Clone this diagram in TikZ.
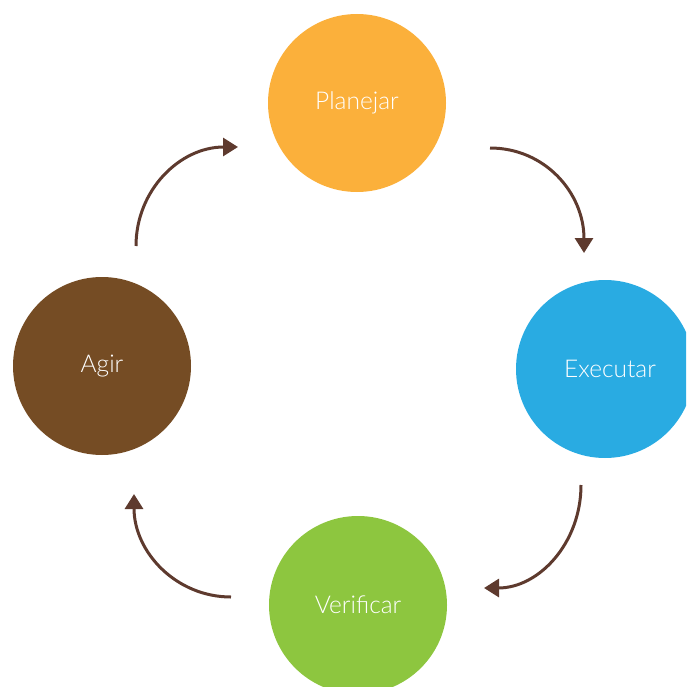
\documentclass[tikz,border=0pt]{standalone}
\usepackage{fontspec}
\setmainfont{Lato Light}
\usetikzlibrary{arrows.meta}
\definecolor{cPlan}{HTML}{FBB03B}
\definecolor{cExec}{HTML}{29ABE2}
\definecolor{cVer}{HTML}{8DC63F}
\definecolor{cAgir}{HTML}{754C24}
\definecolor{cArrow}{HTML}{5E3A2E}
\tikzset{
  phase/.style={circle, minimum size=178pt, inner sep=0pt, text=white,
    font=\fontsize{24.5}{28}\selectfont},
  cyclearrow/.style={draw=cArrow, line width=3pt,
    -{Triangle[width=18pt,length=15pt]}}
}
\begin{document}
\begin{tikzpicture}[x=1pt,y=-1pt]
\useasboundingbox (0,0) rectangle (686,687);
\begin{scope}
\clip (0,0) rectangle (686,687);
\node[phase, fill=cPlan] (plan) at (357,103) {Planejar};
\node[phase, fill=cExec] (exec) at (605,369) {\hspace*{10pt}Executar};
\node[phase, fill=cVer]  (ver)  at (358,605) {Verificar};
\node[phase, fill=cAgir] (agir) at (102,366) {Agir};
\end{scope}
\coordinate (a1s) at (490,148);
\coordinate (a1e) at (584,253);
\coordinate (a2s) at (581,485);
\coordinate (a2e) at (484,588);
\coordinate (a3s) at (231,597);
\coordinate (a3e) at (134,494);
\coordinate (a4s) at (136,246);
\coordinate (a4e) at (238,147);
\draw[cyclearrow] (a1s) .. controls +(55,0) and +(0,-60) .. (a1e);
\draw[cyclearrow] (a2s) .. controls +(0,58) and +(55,0) .. (a2e);
\draw[cyclearrow] (a3s) .. controls +(-55,0) and +(0,58) .. (a3e);
\draw[cyclearrow] (a4s) .. controls +(0,-56) and +(-58,0) .. (a4e);
\end{tikzpicture}
\end{document}
